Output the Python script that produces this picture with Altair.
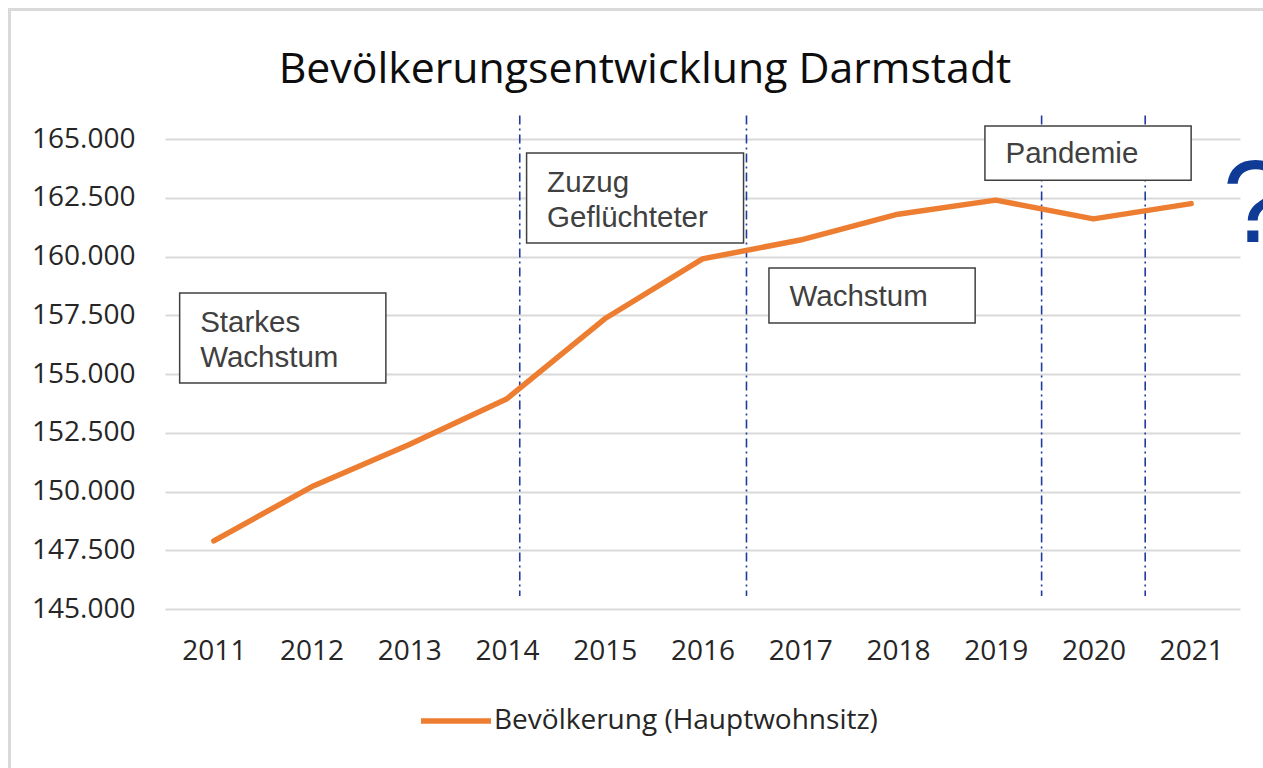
import altair as alt
import pandas as pd

# ---- data ----
years = [2011, 2012, 2013, 2014, 2015, 2016, 2017, 2018, 2019, 2020, 2021]
population = [147900, 150200, 152000, 153950, 157350, 159900, 160700, 161800, 162400, 161600, 162250]
series_name = "Bevölkerung (Hauptwohnsitz)"
chart_title = ["Bevölkerungsentwicklung Darmstadt"]

y_tick_values = [145000, 147500, 150000, 152500, 155000, 157500, 160000, 162500, 165000]

# phase separators (dash-dot vertical lines), in years
phase_marks = [2014.13, 2016.45, 2019.47, 2020.53]

# annotation boxes (year / value coordinates)
box_x1 = [2010.65, 2014.20, 2016.68, 2018.89]
box_x2 = [2012.76, 2016.42, 2018.79, 2021.00]
box_y1 = [158450, 164400, 159510, 165550]
box_y2 = [154620, 160570, 157170, 163250]

# annotation text lines
note_text = ["Starkes", "Wachstum", "Zuzug", "Geflüchteter", "Wachstum", "Pandemie"]
note_x = [2010.86, 2010.86, 2014.41, 2014.41, 2016.89, 2019.10]
note_y = [156790, 155300, 162745, 161255, 157894, 163979]

question_text = ["?"]
question_x = [2021.32]
question_y = [160617]

# ---- tables ----
line_df = pd.DataFrame({"Jahr": years, "Einwohner": population, "Reihe": [series_name] * len(years)})
rule_df = pd.DataFrame({"x": phase_marks, "y1": [166000] * 4, "y2": [145550] * 4})
box_df = pd.DataFrame({"x1": box_x1, "x2": box_x2, "y1": box_y1, "y2": box_y2})
note_df = pd.DataFrame({"text": note_text, "x": note_x, "y": note_y})
q_df = pd.DataFrame({"text": question_text, "x": question_x, "y": question_y})
title_df = pd.DataFrame({"text": chart_title})

xs = alt.Scale(domain=[2010.5, 2021.5], nice=False, zero=False)
ys = alt.Scale(domain=[145000, 165000], nice=False, zero=False)

FONT = "Open Sans"
NOTE_FONT = "Liberation Sans"

border = alt.Chart(pd.DataFrame({"a": [0]})).mark_rect(
    fill=None, stroke="#d9d9d9", strokeWidth=3
).encode(x=alt.value(-155.5), x2=alt.value(1300), y=alt.value(-129.5), y2=alt.value(720))

title = alt.Chart(title_df).mark_text(
    align="center", baseline="alphabetic", font=FONT, fontSize=42.8, color="#0d0d0d"
).encode(x=alt.value(480), y=alt.value(-56), text="text:N")

rules = alt.Chart(rule_df).mark_rule(
    color="#1f3c9c", strokeWidth=1.6, strokeDash=[9, 4, 2, 4]
).encode(
    x=alt.X("x:Q", scale=xs),
    y=alt.Y("y1:Q", scale=ys),
    y2="y2:Q",
)

boxes = alt.Chart(box_df).mark_rect(
    fill="white", stroke="#404040", strokeWidth=1.5, clip=False
).encode(
    x=alt.X("x1:Q", scale=xs),
    x2="x2:Q",
    y=alt.Y("y1:Q", scale=ys),
    y2="y2:Q",
)

line = alt.Chart(line_df).mark_line(
    strokeWidth=5.5, strokeCap="round", strokeJoin="round"
).encode(
    x=alt.X(
        "Jahr:Q",
        scale=xs,
        axis=alt.Axis(
            values=years, format="d", title=None, grid=False, domain=False, ticks=False,
            tickSize=0, labelFont=FONT, labelFontSize=28, labelColor="#262626",
            labelBaseline="alphabetic", labelPadding=50, labelFlush=False,
        ),
    ),
    y=alt.Y(
        "Einwohner:Q",
        scale=ys,
        axis=alt.Axis(
            values=y_tick_values, title=None, grid=True, gridColor="#d9d9d9", gridWidth=2,
            domain=False, ticks=False, tickSize=0, labelFont=FONT, labelFontSize=28,
            labelColor="#262626", labelPadding=30, labelBaseline="middle",
            labelExpr="replace(format(datum.value, ',.0f'), ',', '.')",
        ),
    ),
    color=alt.Color(
        "Reihe:N",
        scale=alt.Scale(range=["#ED7D31"]),
        legend=alt.Legend(
            title=None, orient="none", legendX=253, legendY=544, symbolType="stroke",
            symbolSize=4900, symbolStrokeWidth=5.5, labelFont=FONT, labelFontSize=28,
            labelColor="#262626", labelOffset=0, labelLimit=0, padding=0,
        ),
    ),
)

notes = alt.Chart(note_df).mark_text(
    align="left", baseline="alphabetic", font=NOTE_FONT, fontSize=29.5, color="#404040"
).encode(
    x=alt.X("x:Q", scale=xs),
    y=alt.Y("y:Q", scale=ys),
    text="text:N",
)

question = alt.Chart(q_df).mark_text(
    align="left", baseline="alphabetic", font=NOTE_FONT, fontSize=116, color="#0f3a96"
).encode(
    x=alt.X("x:Q", scale=xs),
    y=alt.Y("y:Q", scale=ys),
    text="text:N",
)

chart = alt.layer(border, title, rules, boxes, line, notes, question).properties(
    width=1075,
    height=470,
    autosize=alt.AutoSizeParams(type="none"),
    padding={"left": 165, "top": 139, "right": 23, "bottom": 159},
    background="white",
).configure_view(stroke=None)

chart.save("out.html", embed_options={"renderer": "svg", "actions": False})
